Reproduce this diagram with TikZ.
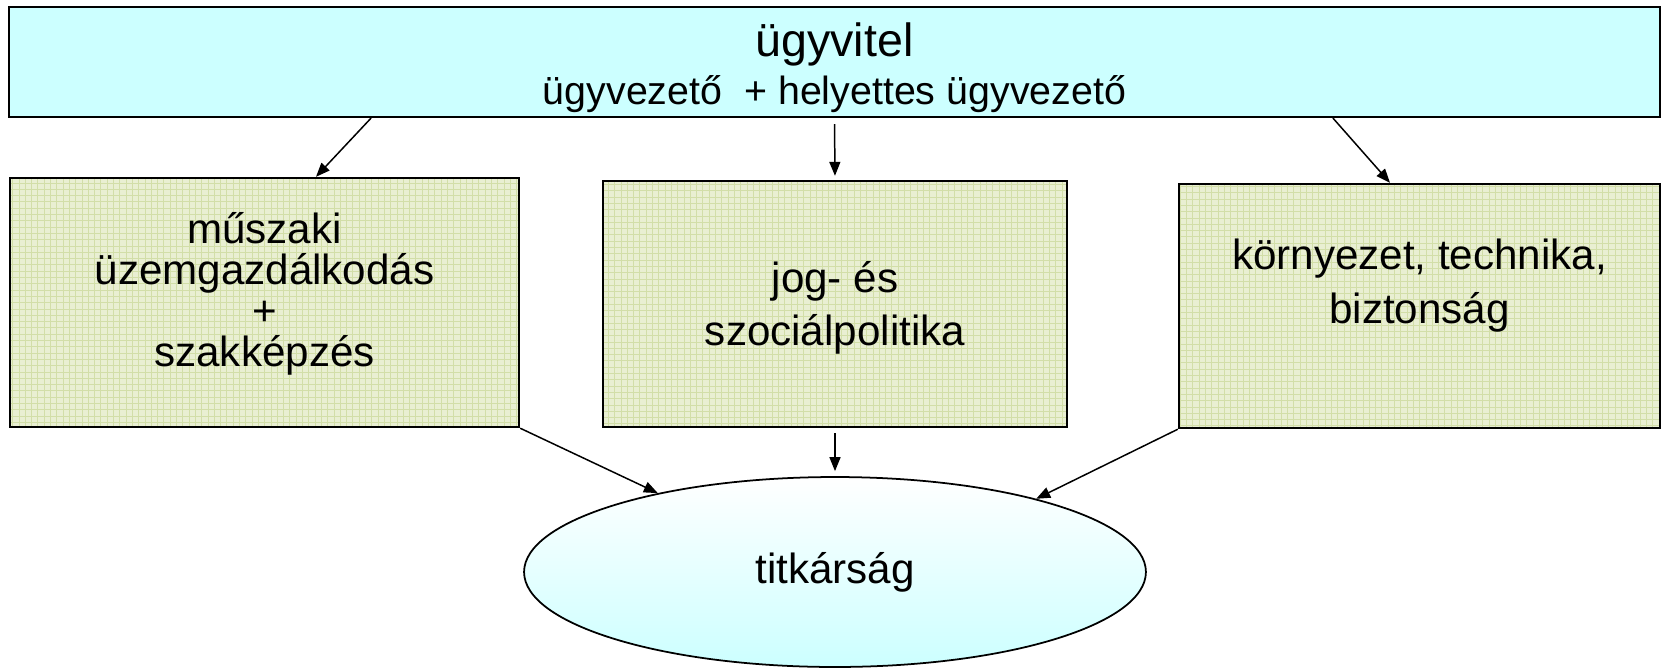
\documentclass[tikz,border=0pt]{standalone}
\usepackage{fontspec}
\setmainfont{Liberation Sans}
\usepackage{xcolor}
\usetikzlibrary{arrows.meta, shapes.geometric, positioning}

\definecolor{kopfblau}{RGB}{204,255,255}
\definecolor{feldgruen}{RGB}{233,239,210}
\definecolor{gittergruen}{RGB}{210,222,168}

\begin{document}
\begin{tikzpicture}[x=0.02cm, y=-0.02cm,
  every node/.style={font=\fontsize{24}{23.3}\selectfont, align=center},
  feld/.style={draw, line width=1.4pt, fill=feldgruen, inner sep=0pt,
    path picture={\draw[gittergruen, line width=0.3pt]
      (path picture bounding box.south west) grid[step=0.126cm]
      (path picture bounding box.north east);}},
  pfeil/.style={-{Triangle[length=0.28cm, width=0.22cm]}, line width=0.85pt}]
\useasboundingbox (0,0) rectangle (1661,667);

% Ueberschrift
\node[draw, line width=1.2pt, fill=kopfblau, minimum width=33.02cm, minimum height=2.2cm] (kopf) at (834.5,62) {};
\node[font=\fontsize{26.5}{27.2}\selectfont] (kopftext) at (834.5,68) {ügyvitel\\{\fontsize{22.4}{27.2}\selectfont ügyvezető\ \ + helyettes ügyvezető}};

% Fachbereiche
\node[feld, minimum width=10.18cm, minimum height=4.98cm] (b1) at (264.5,302.5) {};
\node[feld, minimum width=9.28cm, minimum height=4.92cm] (b2) at (835,304) {};
\node[feld, minimum width=9.62cm, minimum height=4.88cm] (b3) at (1419.5,306) {};

\node (t1) at ([yshift=0.17cm]b1.center) {műszaki\\üzemgazdálkodás\\+\\szakképzés};
\node[font=\fontsize{24}{30.5}\selectfont] (t2) at ([yshift=-0.08cm]b2.center) {jog- és\\szociálpolitika};
\node[font=\fontsize{24}{30.5}\selectfont] (t3) at ([yshift=0.41cm]b3.center) {környezet, technika,\\biztonság};

% Sekretariat
\node[ellipse, draw, line width=1pt, top color=white, bottom color=kopfblau,
  minimum width=12.44cm, minimum height=3.8cm] (sek) at (835,572) {titkárság};

% Pfeile
\draw[pfeil] ([xshift=-9.27cm]kopf.south) -- ([xshift=1.03cm]b1.north);
\draw[pfeil, shorten <=0.12cm, shorten >=0.08cm] (kopf.south) -- (b2.north);
\draw[pfeil] ([xshift=9.97cm]kopf.south) -- ([xshift=-0.59cm]b3.north);
\draw[pfeil] (b1.south east) -- (sek.156);
\draw[pfeil, shorten <=0.1cm, shorten >=0.1cm] (b2.south) -- (sek.north);
\draw[pfeil] (b3.south west) -- (sek.20);

\end{tikzpicture}
\end{document}
